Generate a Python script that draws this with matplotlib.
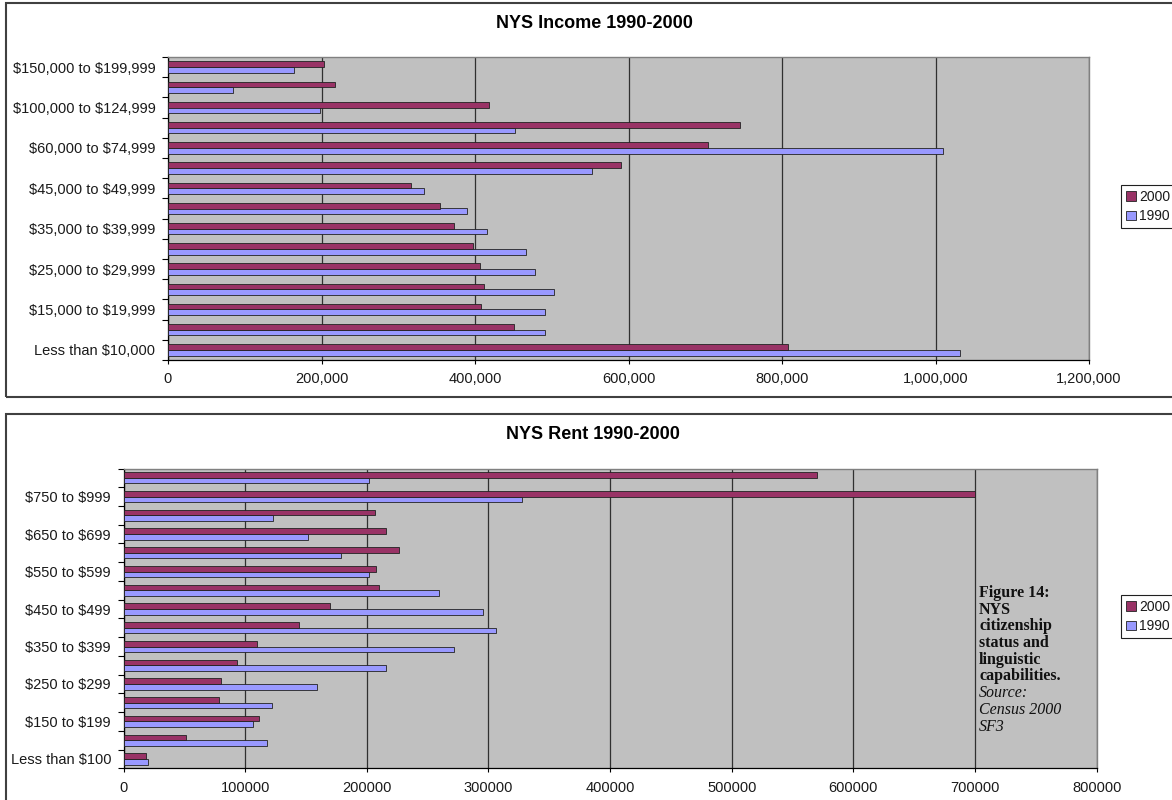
import numpy as np
import matplotlib
matplotlib.use("Agg")
import matplotlib.pyplot as plt
from matplotlib.patches import Rectangle
from matplotlib.ticker import FuncFormatter

plt.rcParams['font.family'] = ['Liberation Sans', 'DejaVu Sans']
plt.rcParams['text.parse_math'] = False  # dollar signs are literal

# household income brackets, bottom to top
income_cats = [
    "Less than $10,000", "$10,000 to $14,999", "$15,000 to $19,999",
    "$20,000 to $24,999", "$25,000 to $29,999", "$30,000 to $34,999",
    "$35,000 to $39,999", "$40,000 to $44,999", "$45,000 to $49,999",
    "$50,000 to $59,999", "$60,000 to $74,999", "$75,000 to $99,999",
    "$100,000 to $124,999", "$125,000 to $149,999", "$150,000 to $199,999",
]
income_2000 = [808000, 451000, 408000, 412000, 406000, 397000, 372000, 355000,
               316000, 590000, 704000, 745000, 418000, 218000, 203000]
income_1990 = [1032000, 491000, 491000, 503000, 478000, 467000, 416000, 390000,
               334000, 553000, 1010000, 452000, 198000, 85000, 164000]

# gross rent brackets, bottom to top
rent_cats = [
    "Less than $100", "$100 to $149", "$150 to $199", "$200 to $249",
    "$250 to $299", "$300 to $349", "$350 to $399", "$400 to $449",
    "$450 to $499", "$500 to $549", "$550 to $599", "$600 to $649",
    "$650 to $699", "$700 to $749", "$750 to $999", "$1,000 or more",
]
rent_2000 = [18600, 51600, 111000, 78400, 79900, 93500, 109800, 144000,
             169600, 210000, 207700, 226600, 216000, 207000, 700000, 570000]
rent_1990 = [19800, 117600, 106600, 121800, 159000, 215600, 272000, 306200,
             295500, 259600, 202000, 178400, 151700, 122800, 327300, 202000]

note_bold = ["Figure 14:", "NYS", "citizenship", "status and", "linguistic",
             "capabilities."]
note_italic = ["Source:", "Census 2000", "SF3"]

C2000 = "#993366"
C1990 = "#9999FF"
W, H = 1172, 800


def px_box(l, t, r, b):
    return [l / W, 1 - b / H, (r - l) / W, (b - t) / H]


def draw_panel(ax, cats, v2000, v1990, xmax, step, fmt, bar_h):
    y = np.arange(len(cats))
    b1 = ax.barh(y - bar_h / 2, v1990, height=bar_h, color=C1990,
                 edgecolor="#222222", linewidth=0.6, zorder=3)
    b2 = ax.barh(y + bar_h / 2, v2000, height=bar_h, color=C2000,
                 edgecolor="#222222", linewidth=0.6, zorder=3)
    ax.set_facecolor("#C0C0C0")
    ax.set_xlim(0, xmax)
    ax.set_ylim(-0.5, len(cats) - 0.5)
    ax.set_xticks(np.arange(0, xmax + 1, step))
    ax.xaxis.set_major_formatter(FuncFormatter(fmt))
    ax.set_yticks(y)
    ax.set_yticklabels([c if i % 2 == 0 else "" for i, c in enumerate(cats)])
    ax.set_yticks(np.arange(-0.5, len(cats), 1), minor=True)
    ax.tick_params(axis="y", which="major", length=0, pad=9,
                   labelsize=10.5, labelcolor="#1a1a1a")
    ax.tick_params(axis="y", which="minor", length=4, width=0.8,
                   direction="out", color="black")
    ax.tick_params(axis="x", length=3, width=0.8, pad=6,
                   labelsize=10.5, labelcolor="#1a1a1a")
    ax.grid(axis="x", color="#303030", linewidth=0.9, zorder=1)
    ax.set_axisbelow(True)
    for s in ("top", "right"):
        ax.spines[s].set_color("#808080")
        ax.spines[s].set_linewidth(1.0)
    for s in ("left", "bottom"):
        ax.spines[s].set_color("black")
        ax.spines[s].set_linewidth(0.9)
    return b2, b1


fig = plt.figure(figsize=(11.72, 8), dpi=100, facecolor="white")

# panel frames
for l, t, r, b in [(6, 3, 1190, 397), (6, 414, 1190, 820)]:
    fig.patches.append(Rectangle((l / W, 1 - b / H), (r - l) / W, (b - t) / H,
                                 transform=fig.transFigure, fill=False,
                                 edgecolor="#404040", linewidth=1.5))

ax1 = fig.add_axes(px_box(168, 57, 1089, 360))
h1 = draw_panel(ax1, income_cats, income_2000, income_1990, 1200000, 200000,
                lambda v, p: f"{v:,.0f}", 0.28)
fig.text(594 / W, 1 - 23 / H, "NYS Income 1990-2000", ha="center",
         va="center", fontsize=13, fontweight="bold")

ax2 = fig.add_axes(px_box(123.6, 468.5, 1096.6, 768.3))
h2 = draw_panel(ax2, rent_cats, rent_2000, rent_1990, 800000, 100000,
                lambda v, p: f"{v:.0f}", 0.30)
fig.text(593 / W, 1 - 435 / H, "NYS Rent 1990-2000", ha="center",
         va="center", fontsize=13, fontweight="bold")

for handles, top in [(h1, 185), (h2, 595)]:
    leg = fig.legend(handles, ["2000", "1990"], loc="upper left",
                     bbox_to_anchor=(1121 / W, 1 - top / H), fontsize=10,
                     frameon=True, fancybox=False, framealpha=1,
                     edgecolor="#202020", borderpad=0.35, handlelength=0.7,
                     handleheight=0.7, handletextpad=0.25, labelspacing=0.4,
                     borderaxespad=0)
    leg.get_frame().set_linewidth(0.8)
    for t in leg.get_texts():
        t.set_color("#1a1a1a")

# caption set inside the rent chart
serif = ['Liberation Serif', 'DejaVu Serif']
y0, dy = 593, 16.7
for i, line in enumerate(note_bold + note_italic):
    bold = i < len(note_bold)
    fig.text(979 / W, 1 - (y0 + i * dy) / H, line, ha="left", va="center",
             family=serif, fontsize=11.5, color="#111111",
             fontweight="bold" if bold else "normal",
             fontstyle="normal" if bold else "italic")

fig.savefig("out.png", dpi=100, facecolor="white")
